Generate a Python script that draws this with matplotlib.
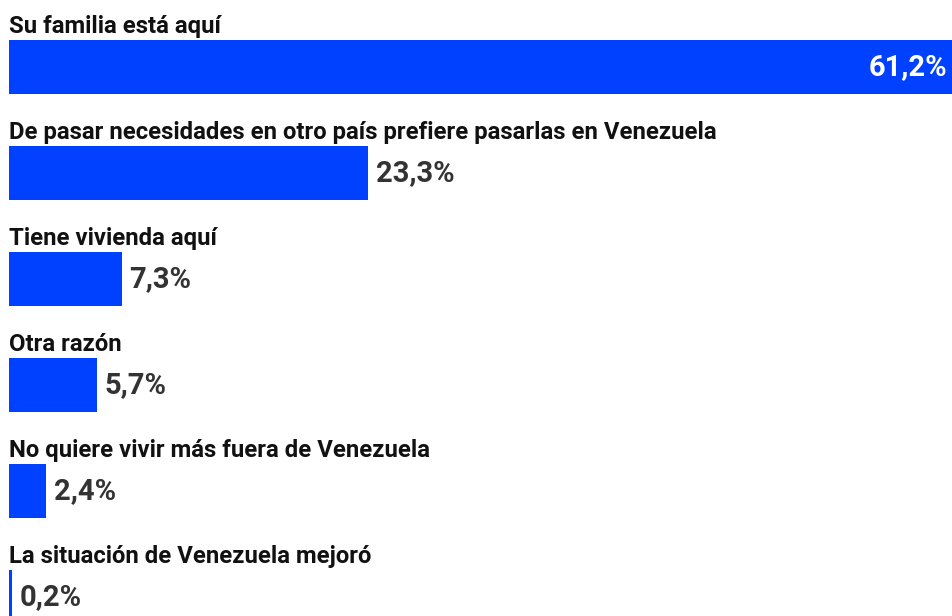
import matplotlib
matplotlib.use("Agg")
import matplotlib.pyplot as plt

# Data
categories = [
    "Su familia está aquí",
    "De pasar necesidades en otro país prefiere pasarlas en Venezuela",
    "Tiene vivienda aquí",
    "Otra razón",
    "No quiere vivir más fuera de Venezuela",
    "La situación de Venezuela mejoró",
]
values = [61.2, 23.3, 7.3, 5.7, 2.4, 0.2]
value_labels = ["61,2%", "23,3%", "7,3%", "5,7%", "2,4%", "0,2%"]

bar_color = "#0041ff"
px_per_unit = 15.42   # pixel width of one percent
row_px = 106.0        # distance between rows in pixels

plt.rcParams["font.family"] = ["Roboto", "DejaVu Sans"]

fig = plt.figure(figsize=(9.53, 6.16), dpi=100)
ax = fig.add_axes([0, 0, 1, 1])

y_pos = list(range(len(categories)))
bar_h = 54 / row_px
ax.barh(y_pos, values, height=bar_h, color=bar_color, left=0)

for i, (cat, val, lab) in enumerate(zip(categories, values, value_labels)):
    # category label above the bar
    ax.text(0, i - bar_h / 2 - 7 / row_px, cat, ha="left", va="baseline",
            fontsize=17.2, fontweight="bold", color="#111111")
    # value label
    if val > 40:
        ax.text(val - 5 / px_per_unit, i, lab, ha="right", va="center",
                fontsize=21, fontweight="bold", color="white")
    else:
        ax.text(val + 8 / px_per_unit, i, lab, ha="left", va="center",
                fontsize=21, fontweight="bold", color="#333333")

ax.set_xlim(-9 / px_per_unit, (953 - 9) / px_per_unit)
ax.set_ylim((616 - 67) / row_px, -67 / row_px)
ax.axis("off")

fig.savefig("out.png", dpi=100)
